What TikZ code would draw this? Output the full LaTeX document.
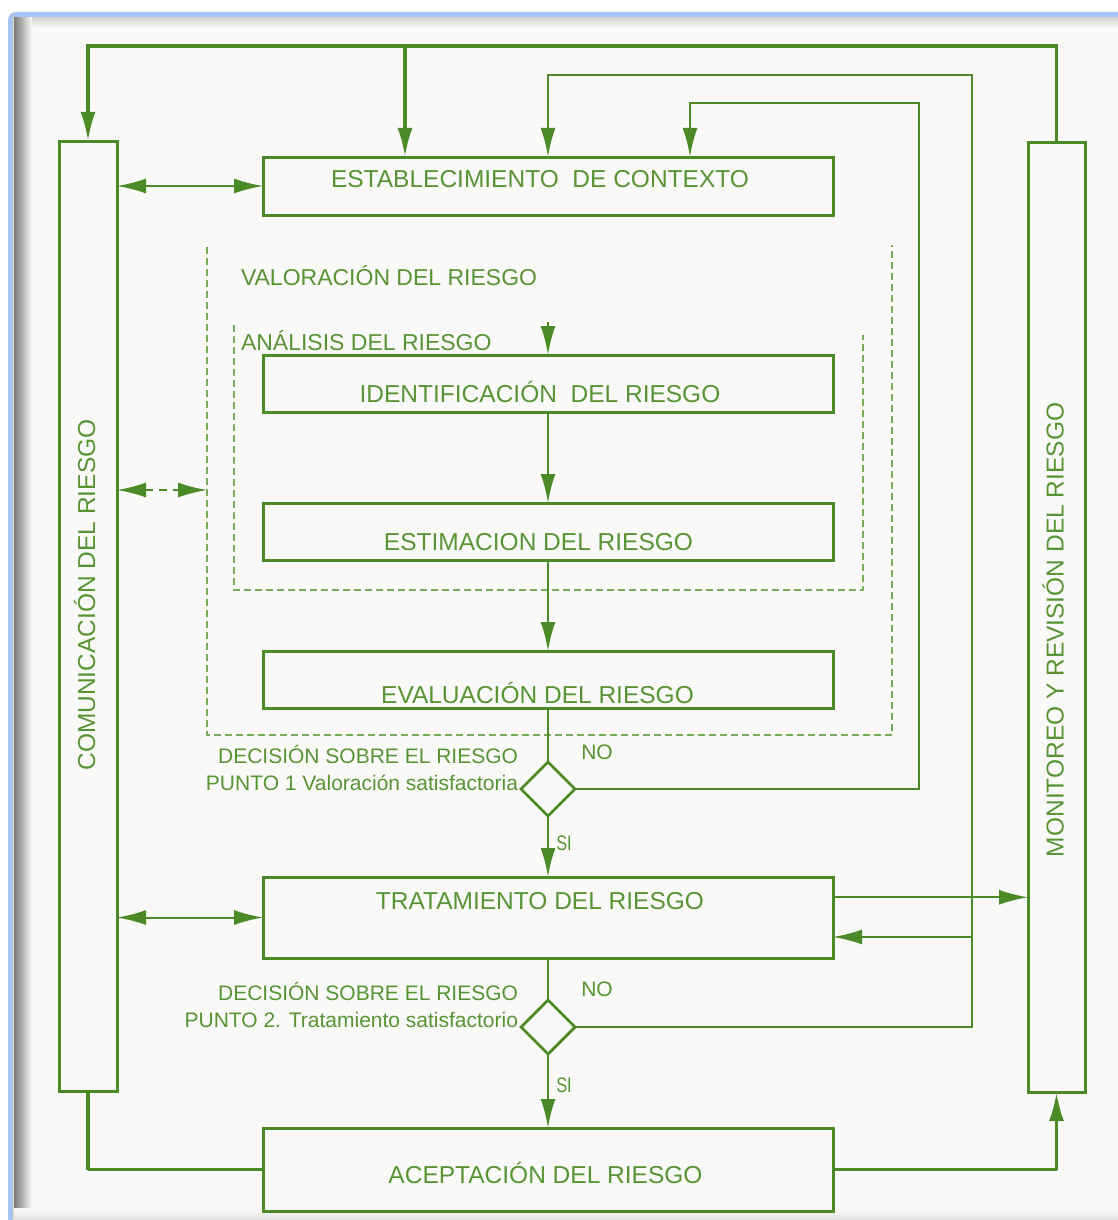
\documentclass[tikz,border=0pt]{standalone}
\usepackage{fontspec}
\setmainfont{Liberation Sans}
\usetikzlibrary{arrows.meta,shapes.geometric,calc}

\definecolor{lineg}{RGB}{76,138,40}
\definecolor{textg}{RGB}{88,148,52}
\definecolor{dashg}{RGB}{118,172,92}
\definecolor{paper}{RGB}{249,249,247}
\definecolor{frameblue}{RGB}{168,196,244}
\definecolor{framebeige}{RGB}{236,224,192}

\begin{document}
\begin{tikzpicture}[x=0.5pt,y=-0.5pt,
  every node/.style={inner sep=0pt, outer sep=0pt},
  >={Latex[length=14.5pt,width=7.5pt]},
  box/.style={draw=lineg, line width=1.5pt, rectangle, minimum width=285pt},
  tallbox/.style={draw=lineg, line width=1.5pt, rectangle, minimum height=475pt},
  decision/.style={draw=lineg, line width=1.4pt, diamond, aspect=1,
    minimum width=27pt, minimum height=27pt},
  boxtext/.style={text=textg, anchor=base, font=\fontsize{12.25}{14}\selectfont},
  grouptext/.style={text=textg, anchor=base west, font=\fontsize{11.5}{13}\selectfont},
  notetext/.style={text=textg, anchor=base east, font=\fontsize{10.5}{12}\selectfont},
  branchtext/.style={text=textg, anchor=base, font=\fontsize{10.5}{12}\selectfont},
  heavy/.style={draw=lineg, line width=1.7pt},
  medium/.style={draw=lineg, line width=1.3pt},
  light/.style={draw=lineg, line width=1pt},
  groupline/.style={draw=dashg, line width=1.45pt, dash pattern=on 3.5pt off 2pt},
]
\useasboundingbox (0,0) rectangle (1118,1220);
\clip (0,0) rectangle (1118,1220);

% window frame and paper
\fill[white] (0,0) rectangle (1118,1220);
\fill[frameblue, rounded corners=4pt] (8,12) rectangle (1160,1260);
\fill[framebeige] (13,17) rectangle (1160,1260);
\fill[paper] (14,18) rectangle (1160,1260);
\shade[top color=black!16, bottom color=paper] (14,18) rectangle (1118,28);
\shade[left color=black!52, right color=paper] (14,18) rectangle (32,1220);
\shade[top color=paper, bottom color=black!12] (14,1208) rectangle (1118,1220);

% main boxes
\node[box, minimum height=29pt]   (estab) at (548,186) {};
\node[box, minimum height=28.5pt] (ident) at (548,383.5) {};
\node[box, minimum height=28.5pt] (estim) at (548,531.5) {};
\node[box, minimum height=28.5pt] (eval)  at (548,679.5) {};
\node[box, minimum height=40.5pt] (trat)  at (548,917.5) {};
\node[box, minimum height=41.5pt] (acept) at (548,1169.5) {};
\node[tallbox, minimum width=29pt]   (com) at (88,616) {};
\node[tallbox, minimum width=28.5pt] (mon) at (1056.5,617) {};

% decision points
\node[decision] (d1) at (548,789) {};
\node[decision] (d2) at (548,1027) {};

% box labels
\node[boxtext] (estab-t) at (540,187.75) {ESTABLECIMIENTO\ \ DE CONTEXTO};
\node[boxtext] (ident-t) at (540,402.75) {IDENTIFICACIÓN\ \ DEL RIESGO};
\node[boxtext] (estim-t) at (538.5,550.75) {ESTIMACION DEL RIESGO};
\node[boxtext] (eval-t)  at (537.5,703.75) {EVALUACIÓN DEL RIESGO};
\node[boxtext] (trat-t)  at (540,909.75) {TRATAMIENTO DEL RIESGO};
\node[boxtext] (acept-t) at (545.5,1183.75) {ACEPTACIÓN DEL RIESGO};
\node[boxtext, rotate=90] (com-t) at (95,595) {COMUNICACIÓN DEL RIESGO};
\node[boxtext, rotate=90] (mon-t) at (1063.5,630) {MONITOREO Y REVISIÓN DEL RIESGO};

% dashed groups (open at the top)
\coordinate (v-nw) at (207,247);
\coordinate (v-se) at (892,735);
\coordinate (v-ne) at (892,245);
\draw[groupline] (v-nw) -- (v-nw |- v-se) -- (v-se) -- (v-ne);
\coordinate (an-nw) at (234,325);
\coordinate (an-se) at (863,590);
\coordinate (an-ne) at (863,335);
\draw[groupline] (an-nw) -- (an-nw |- an-se) -- (an-se) -- (an-ne);
\node[grouptext] (val-t) at (241,285.25) {VALORACIÓN DEL RIESGO};
\node[grouptext] (an-t)  at (241,350.25) {ANÁLISIS DEL RIESGO};

% decision labels
\node[notetext] (d1-a) at (518,763.5) {DECISIÓN SOBRE EL RIESGO};
\node[notetext] (d1-b) at (518,790.5) {PUNTO 1 Valoración satisfactoria};
\node[notetext] (d2-a) at (518,1000.5) {DECISIÓN SOBRE EL RIESGO};
\node[notetext] (d2-b) at (518,1027.5) {PUNTO 2. Tratamiento satisfactorio};
\node[branchtext] (d1-no) at (597,759.5) {NO};
\node[branchtext] (d2-no) at (597,996.5) {NO};
\node[branchtext] (d1-si) at (564,850) {\scalebox{0.78}[1]{SI}};
\node[branchtext] (d2-si) at (564,1092) {\scalebox{0.78}[1]{SI}};

% main flow
\coordinate (an-in) at (548,322);
\draw[medium,->] (an-in) -- (ident.north);
\draw[medium,->] (ident.south) -- (estim.north);
\draw[medium,->] (estim.south) -- (eval.north);
\draw[medium] (eval.south) -- (d1.north);
\draw[medium,->] (d1.south) -- (trat.north);
\draw[medium] (trat.south) -- (d2.north);
\draw[medium,->] (d2.south) -- (acept.north);

% feedback loops into the context
\coordinate (t1) at (405,46);
\draw[heavy,->] (mon.north) -- (mon.north |- t1) -- (com.north |- t1) -- (com.north);
\draw[heavy,->] (t1) -- (t1 |- estab.north);
\coordinate (r2) at (972,75);
\draw[medium,->] (d2.east) -- (d2.east -| r2) -- (r2) -- (r2 -| estab.north) -- (estab.north);
\coordinate (r3) at (919,103);
\coordinate (e3) at (690,103);
\draw[medium,->] (d1.east) -- (d1.east -| r3) -- (r3) -- (e3) -- (e3 |- estab.north);

% treatment and monitoring
\coordinate (trat-out) at ($(trat.north east)!0.25!(trat.south east)$);
\coordinate (trat-in)  at ($(trat.north east)!0.74!(trat.south east)$);
\draw[light,->] (trat-out) -- (trat-out -| mon.west);
\draw[light,->] (trat-in -| r2) -- (trat-in);

% communication links
\coordinate (v-w) at (207,490);
\draw[light,<->] (com.east |- estab) -- (estab.west);
\draw[light,<->,dash pattern=on 4pt off 3pt] (com.east |- v-w) -- (v-w);
\draw[light,<->] (com.east |- trat) -- (trat.west);

% acceptance
\draw[heavy] (com.south) -- (com.south |- acept.west);
\draw[medium] (com.south |- acept.west) -- (acept.west);
\draw[medium] (acept.east) -- (acept.east -| mon.south);
\draw[heavy,->] (acept.east -| mon.south) -- (mon.south);
\end{tikzpicture}
\end{document}
